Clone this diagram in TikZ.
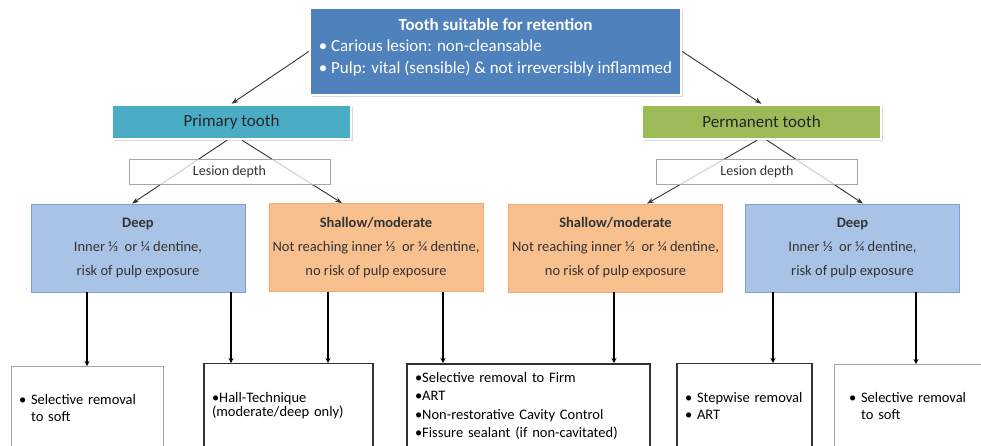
\documentclass[tikz,border=0pt]{standalone}
\usepackage{fontspec}
\setmainfont{Carlito}
\usetikzlibrary{arrows.meta,shadows}
\definecolor{topblue}{RGB}{79,129,189}
\definecolor{primcol}{RGB}{75,172,198}
\definecolor{permcol}{RGB}{155,187,89}
\definecolor{deepfill}{RGB}{169,195,231}
\definecolor{deepline}{RGB}{127,160,214}
\definecolor{shalfill}{RGB}{249,192,143}
\definecolor{shalline}{RGB}{244,167,110}

\begin{document}
\begin{tikzpicture}[x=1pt,y=-1pt,
    topbox/.style={fill=topblue,draw=white,line width=2.5pt,minimum width=371pt,minimum height=87pt,
      inner sep=0pt,text=white,font=\fontsize{17}{21.5}\selectfont,
      drop shadow={opacity=0.3,shadow xshift=2pt,shadow yshift=-2pt}},
    toothbox/.style={draw=white,line width=2.5pt,minimum width=239pt,minimum height=34pt,inner sep=0pt,
      text=black!85,font=\fontsize{17}{20}\selectfont,
      drop shadow={opacity=0.3,shadow xshift=2pt,shadow yshift=-2pt}},
    depthbox/.style={draw=gray!70,fill=white,fill opacity=0.75,text opacity=1,minimum width=201pt,
      minimum height=25pt,inner sep=0pt,text=black!80,font=\fontsize{14}{16}\selectfont},
    deepbox/.style={fill=deepfill,draw=deepline,line width=0.8pt,minimum width=214pt,minimum height=88pt,
      inner sep=0pt,align=center,text=black!80,font=\fontsize{14.5}{24}\selectfont},
    shalbox/.style={deepbox,fill=shalfill,draw=shalline},
    resbox/.style={draw=black!80,line width=1.2pt,anchor=north,minimum height=84pt,inner xsep=8pt,
      align=left,font=\fontsize{14.5}{17}\selectfont},
    thinarr/.style={-{Stealth[length=7pt,width=5pt]},draw=black!80,line width=0.9pt},
    thickarr/.style={-{Stealth[length=5pt,width=5pt]},line width=1.6pt}]
  \useasboundingbox (0,0) rectangle (981,445);

  \node[topbox] (top) at (495.5,51.5) {\raisebox{4pt}[\height][\depth]{\begin{tabular}{@{}l@{}}
      \multicolumn{1}{@{}c@{}}{\bfseries Tooth suitable for retention}\\
      \textbullet\ Carious lesion: non-cleansable\\
      \textbullet\ Pulp: vital (sensible) \& not irreversibly inflammed
    \end{tabular}}};
  \node[toothbox,fill=primcol] (prim) at (231.5,122) {Primary tooth};
  \node[toothbox,fill=permcol] (perm) at (761.5,122) {Permanent tooth};

  \node[deepbox] (deepL) at (138,248) {\textbf{Deep}\\Inner ⅓\ \ or ¼ dentine,\\risk of pulp exposure};
  \node[shalbox] (shalL) at (376,247.5) {\textbf{Shallow/moderate}\\Not reaching inner ⅓\ \ or ¼ dentine,\\no risk of pulp exposure};
  \node[shalbox] (shalR) at (615.5,248) {\textbf{Shallow/moderate}\\Not reaching inner ⅓\ \ or ¼ dentine,\\no risk of pulp exposure};
  \node[deepbox] (deepR) at (852.5,248) {\textbf{Deep}\\Inner ⅓\ \ or ¼ dentine,\\risk of pulp exposure};

  \node[resbox,draw=gray!70,line width=0.8pt,text width=136pt] (res1) at (87,366)
    {\textbullet\ Selective removal\\\phantom{\textbullet\ }to soft};
  \node[resbox,text width=153pt] (res2) at (288.5,363)
    {\textbullet Hall-Technique\\[-3pt](moderate/deep only)};
  \node[resbox,line width=1.6pt,text width=227pt] (res3) at (528.5,363)
    {\textbullet Selective removal to Firm\\[1.5pt]\textbullet ART\\[1.5pt]\textbullet Non-restorative Cavity Control\\[1.5pt]\textbullet Fissure sealant (if non-cavitated)};
  \node[resbox,text width=119pt] (res4) at (744.5,363)
    {\textbullet\ Stepwise removal\\\textbullet\ ART};
  \node[resbox,draw=gray!70,line width=0.8pt,inner xsep=15pt,text width=134pt] (res5) at (916,364)
    {\textbullet\ Selective removal\\\phantom{\textbullet\ }to soft};

  \draw[thinarr] (top.west) -- (prim.north);
  \draw[thinarr] (top.east) -- (perm.north);
  \draw[thinarr] ([xshift=-4.5pt]prim.south) -- ([xshift=-6pt]deepL.north);
  \draw[thinarr] ([xshift=10.5pt]prim.south) -- ([xshift=-34pt]shalL.north);
  \draw[thinarr] ([xshift=-4.5pt]perm.south) -- ([xshift=31.5pt]shalR.north);
  \draw[thinarr] ([xshift=5.5pt]perm.south) -- ([xshift=10.5pt]deepR.north);

  % lesion depth boxes lie over the arrows
  \node[depthbox] (depthL) at (229.5,171.5) {Lesion depth};
  \node[depthbox] (depthR) at (757,172) {Lesion depth};

  \draw[thickarr] (deepL.south -| res1.north) -- (res1.north);
  \draw[thickarr] ([xshift=93pt]deepL.south) -- ([xshift=93pt]deepL.south |- res2.north);
  \draw[thickarr] ([xshift=-48pt]shalL.south) -- ([xshift=-48pt]shalL.south |- res2.north);
  \draw[thickarr] ([xshift=67pt]shalL.south) -- ([xshift=67pt]shalL.south |- res3.north);
  \draw[thickarr] ([xshift=-1.5pt]shalR.south) -- ([xshift=-1.5pt]shalR.south |- res3.north);
  \draw[thickarr] ([xshift=-79.5pt]deepR.south) -- ([xshift=-79.5pt]deepR.south |- res4.north);
  \draw[thickarr] (deepR.south -| res5.north) -- (res5.north);
\end{tikzpicture}
\end{document}
